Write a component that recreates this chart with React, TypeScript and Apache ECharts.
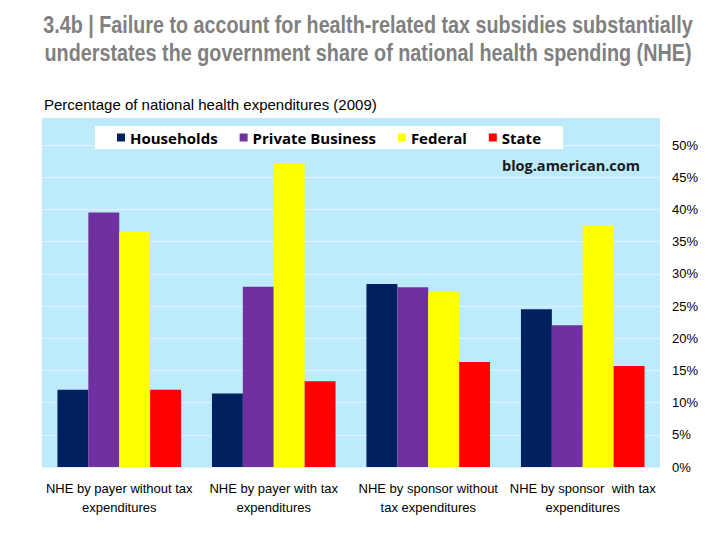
import React, { useEffect, useRef } from "react";
import * as echarts from "echarts";

const categories = [
  "NHE by payer without tax\nexpenditures",
  "NHE by payer with tax\nexpenditures",
  "NHE by sponsor without\ntax expenditures",
  "NHE by sponsor  with tax\nexpenditures",
];
const households = [12.0, 11.4, 28.4, 24.5];
const privateBusiness = [39.5, 28.0, 27.9, 22.0];
const federal = [36.5, 47.2, 27.2, 37.5];
const state = [12.0, 13.3, 16.3, 15.7];
const seriesNames = ["Households", "Private Business", "Federal", "State"];
const seriesColors = ["#002060", "#7030A0", "#FFFF00", "#FF0000"];
const titleLines = [
  "3.4b | Failure to account for health-related tax subsidies substantially",
  "understates the government share of national health spending (NHE)",
];

const SANS = '"Liberation Sans", Arial, sans-serif';
const TITLE_FONT = 'bold 23px "Liberation Sans", Arial, sans-serif';

function measure(text: string, font: string): number {
  const c = document.createElement("canvas");
  const ctx = c.getContext("2d");
  if (!ctx) return 1;
  ctx.font = font;
  return ctx.measureText(text).width;
}

export default function App() {
  const ref = useRef<HTMLDivElement>(null);
  useEffect(() => {
    if (!ref.current) return;
    const chart = echarts.init(ref.current, undefined, { renderer: "svg" });
    const values = [households, privateBusiness, federal, state];
    const targetW = [650, 647];
    const titleGraphics = titleLines.map((t, i) => {
      const w = measure(t, TITLE_FONT);
      const s = targetW[i] / w;
      return {
        type: "text",
        x: 368,
        y: i === 0 ? 25 : 53,
        scaleX: s,
        style: {
          text: t,
          font: TITLE_FONT,
          fill: "#808080",
          textAlign: "center",
          textVerticalAlign: "middle",
        },
      };
    });
    chart.setOption({
      animation: false,
      backgroundColor: "#ffffff",
      title: [
        {
          text: "Percentage of national health expenditures (2009)",
          left: 39,
          top: 92,
          textStyle: {
            fontFamily: SANS,
            fontSize: 15,
            fontWeight: "normal",
            color: "#000000",
          },
        },
      ],
      graphic: [
        {
          type: "rect",
          z: -10,
          shape: { x: 42, y: 118, width: 618, height: 349 },
          style: { fill: "#BDEBFB" },
        },
        ...titleGraphics,
        {
          type: "text",
          x: 640,
          y: 165,
          style: {
            text: "blog.american.com",
            font: 'bold 14.5px "Open Sans", sans-serif',
            fill: "#1a1a1a",
            textAlign: "right",
            textVerticalAlign: "middle",
          },
        },
      ],
      legend: {
        data: seriesNames,
        left: 95,
        top: 126,
        backgroundColor: "#ffffff",
        padding: [4, 22, 4, 22],
        itemGap: 22,
        icon: "rect",
        itemWidth: 8,
        itemHeight: 8,
        textStyle: {
          fontFamily: '"Open Sans", sans-serif',
          fontWeight: "bold",
          fontSize: 15,
          color: "#000000",
        },
      },
      grid: { left: 42, right: 60, top: 145, bottom: 73, containLabel: false },
      xAxis: {
        type: "category",
        data: categories,
        axisLine: { show: false },
        axisTick: { show: false },
        axisLabel: {
          fontFamily: SANS,
          fontSize: 13,
          color: "#000000",
          lineHeight: 19,
          margin: 12,
          interval: 0,
        },
      },
      yAxis: {
        type: "value",
        position: "right",
        min: 0,
        max: 50,
        interval: 5,
        axisLine: { show: false },
        axisTick: { show: false },
        splitLine: { lineStyle: { color: "#dff4fd", width: 1 } },
        axisLabel: {
          formatter: "{value}%",
          fontFamily: SANS,
          fontSize: 13,
          color: "#000000",
          margin: 12,
        },
      },
      series: seriesNames.map((name, i) => ({
        name,
        type: "bar",
        data: values[i],
        barGap: "0%",
        barCategoryGap: "20%",
        itemStyle: { color: seriesColors[i] },
      })),
    });
    return () => chart.dispose();
  }, []);
  return (
    <div
      ref={ref}
      style={{ position: "absolute", left: 0, top: 0, width: 720, height: 540 }}
    />
  );
}
